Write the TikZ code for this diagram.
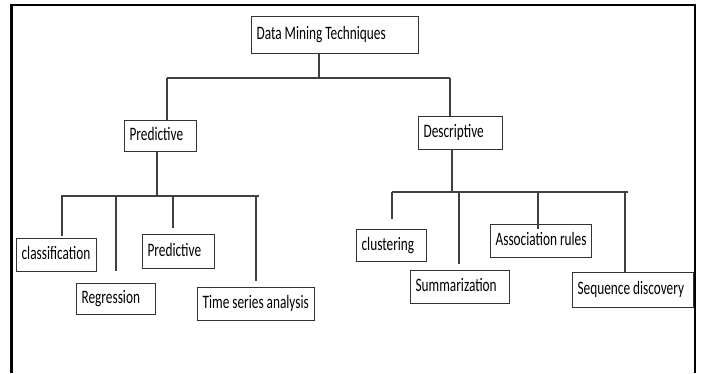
\documentclass[tikz,border=0pt]{standalone}
\usepackage{fontspec}
\setmainfont{Carlito}[FakeStretch=0.7]

% fixed-width, left-aligned box text
\newcommand{\boxtext}[2]{\makebox[#1][l]{\strut #2}}

\begin{document}
\begin{tikzpicture}[x=1pt, y=-1pt,
    box/.style={draw=black!80, line width=1.2pt, anchor=north west,
        inner xsep=5pt, inner ysep=0pt,
        font=\fontsize{19}{22}\selectfont},
    link/.style={draw=black!75, line width=1.1pt},
    frame/.style={line width=2.5pt}]
    \useasboundingbox (0,0) rectangle (703,373);
    \draw[frame] (11.5,373) -- (11.5,5) -- (695,5) -- (695,373);

    % root and first level
    \node[box, minimum height=37pt] (dmt) at (251,16) {\boxtext{157pt}{Data Mining Techniques}};
    \node[box, minimum height=31pt] (pred) at (124,120) {\boxtext{62pt}{Predictive}};
    \node[box, minimum height=33pt] (desc) at (418,116) {\boxtext{74pt}{Descriptive}};

    % predictive leaves
    \node[box, minimum height=33pt] (cls) at (16,238) {\boxtext{70pt}{classification}};
    \node[box, minimum height=31pt] (reg) at (76,283) {\boxtext{69pt}{Regression}};
    \node[box, minimum height=34pt] (predb) at (142,234) {\boxtext{62pt}{Predictive}};
    \node[box, minimum height=33pt] (tsa) at (197,287) {\boxtext{107pt}{Time series analysis}};

    % descriptive leaves
    \node[box, minimum height=32pt] (clu) at (356,229) {\boxtext{60pt}{clustering}};
    \node[box, minimum height=33pt] (sum) at (410,270) {\boxtext{89pt}{Summarization}};
    \node[box, minimum height=33pt] (ass) at (490,224) {\boxtext{91pt}{Association rules}};
    \node[box, minimum height=35pt] (seq) at (572,272) {\boxtext{111pt}{Sequence discovery}};

    % bars
    \coordinate (top) at (319,78);
    \coordinate (topL) at (167,78);
    \coordinate (topR) at (450,78);
    \coordinate (pbar) at (157,196);
    \coordinate (pbarL) at (61,196);
    \coordinate (pbarR) at (259,196);
    \coordinate (dbar) at (452,192);
    \coordinate (dbarL) at (392,192);
    \coordinate (dbarR) at (628,192);

    \draw[link] (dmt.south -| top) -- (top);
    \draw[link] (topL) -- (topR);
    \draw[link] (topL) -- (pred.north -| topL);
    \draw[link] (topR) -- (desc.north -| topR);

    \draw[link] (pred.south -| pbar) -- (pbar);
    \draw[link] (pbarL) -- (pbarR);
    \draw[link, shorten >=2pt] (62,196) -- (cls.north -| 62,0);
    \draw[link, shorten >=12pt] (116,196) -- (reg.north -| 116,0);
    \draw[link, shorten >=6pt] (173,196) -- (predb.north -| 173,0);
    \draw[link, shorten >=6pt] (256,196) -- (tsa.north -| 256,0);

    \draw[link] (desc.south -| dbar) -- (dbar);
    \draw[link] (dbarL) -- (dbarR);
    \draw[link, shorten >=10pt] (dbarL) -- (clu.north -| dbarL);
    \draw[link, shorten >=6pt] (459,192) -- (sum.north -| 459,0);
    \draw[link, shorten >=-5pt] (538,192) -- (ass.north -| 538,0);
    \draw[link] (625,192) -- (seq.north -| 625,0);
\end{tikzpicture}
\end{document}
